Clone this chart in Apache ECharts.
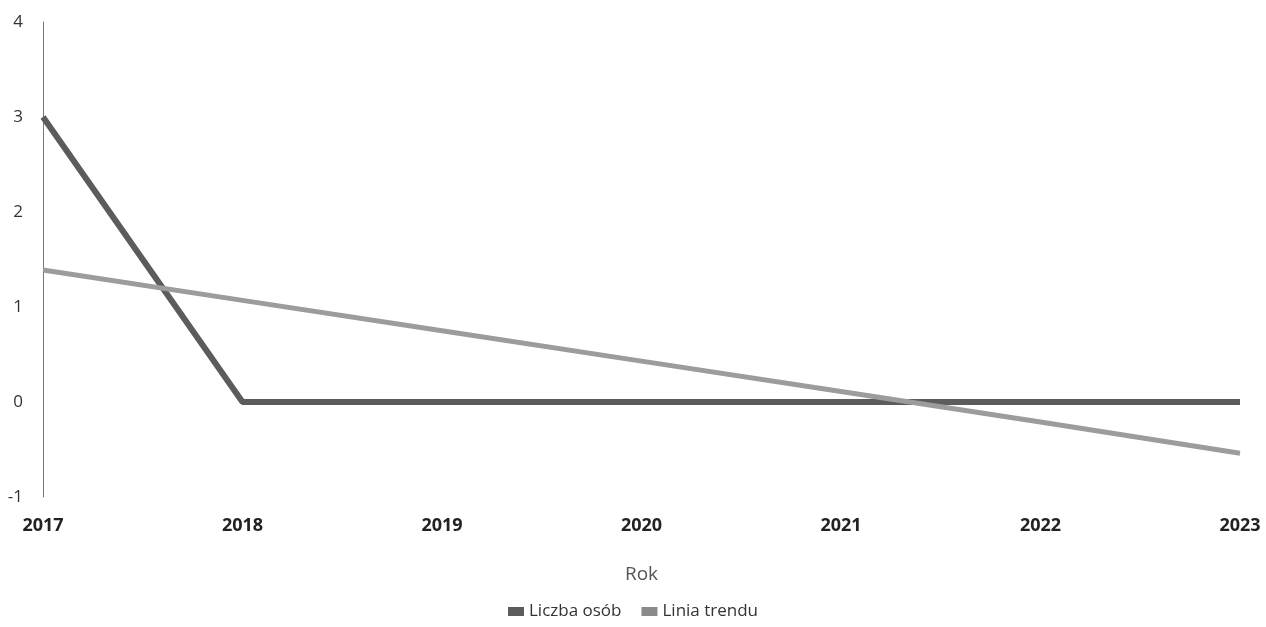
<!DOCTYPE html>
<html>
<head>
<meta charset="utf-8">
<script src="https://cdn.jsdelivr.net/npm/echarts@6/dist/echarts.min.js"></script>
<style>
  html, body { margin: 0; padding: 0; background: #fff; }
  #chart { width: 1266px; height: 627px; }
</style>
</head>
<body>
<div id="chart"></div>
<script>
// dane
const years = ['2017', '2018', '2019', '2020', '2021', '2022', '2023']
const liczbaOsob = [3, 0, 0, 0, 0, 0, 0]
const liniaTrendu = [1.39, 1.07, 0.75, 0.43, 0.11, -0.21, -0.54]
const yTicks = [-1, 0, 1, 2, 3, 4]

const chartInstance = echarts.init(document.getElementById('chart'))

const option = {
  animation: false,
  textStyle: { fontFamily: 'Open Sans, DejaVu Sans, sans-serif' },
  grid: {
    left: 43,
    right: 26,
    top: 22,
    bottom: 130
  },
  legend: {
    bottom: 2,
    left: 'center',
    itemWidth: 16,
    itemHeight: 9,
    itemGap: 20,
    icon: 'rect',
    textStyle: { fontSize: 17, color: '#333' },
    data: ['Liczba osób', 'Linia trendu']
  },
  xAxis: {
    type: 'category',
    data: years,
    boundaryGap: false,
    name: 'Rok',
    nameLocation: 'middle',
    nameGap: 68,
    nameTextStyle: { fontSize: 19, color: '#555' },
    axisLine: { show: false },
    axisTick: { show: false },
    axisLabel: {
      fontSize: 18,
      color: '#222',
      fontWeight: 'bold',
      margin: 20,
      showMinLabel: true,
      showMaxLabel: true
    },
    splitLine: { show: false }
  },
  yAxis: {
    type: 'value',
    min: yTicks[0],
    max: yTicks[yTicks.length - 1],
    interval: 1,
    axisLine: { show: true, lineStyle: { color: '#777', width: 1 } },
    axisTick: { show: false },
    axisLabel: { fontSize: 17, color: '#333', margin: 20 },
    splitLine: { show: false }
  },
  series: [
    {
      name: 'Liczba osób',
      type: 'line',
      data: liczbaOsob,
      showSymbol: false,
      symbol: 'none',
      lineStyle: { color: '#5c5c5c', width: 6 },
      itemStyle: { color: '#5c5c5c' },
      z: 2
    },
    {
      name: 'Linia trendu',
      type: 'line',
      data: liniaTrendu,
      showSymbol: false,
      symbol: 'none',
      lineStyle: { color: '#9c9c9c', width: 5 },
      itemStyle: { color: '#8a8a8a' },
      z: 3
    }
  ]
}

chartInstance.setOption(option)
</script>
</body>
</html>
